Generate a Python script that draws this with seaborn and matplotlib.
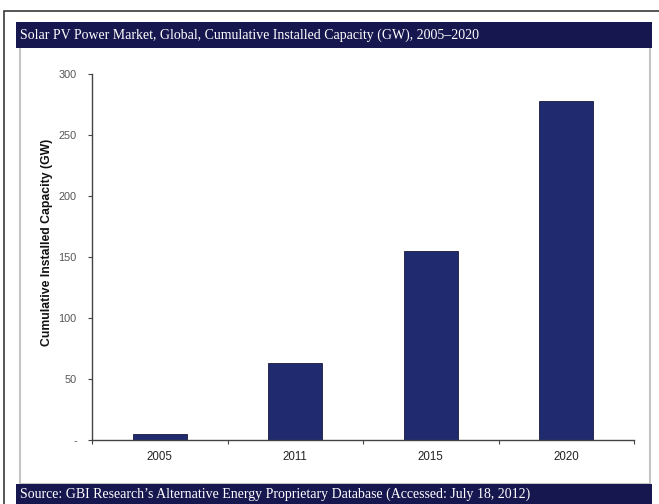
import matplotlib
matplotlib.use("Agg")
import matplotlib.pyplot as plt
from matplotlib.patches import Rectangle
from matplotlib.ticker import FuncFormatter, FixedLocator
import seaborn as sns
import pandas as pd

years = ["2005", "2011", "2015", "2020"]
capacity = [5, 63, 155, 278]
y_ticks = [0, 50, 100, 150, 200, 250, 300]
title_text = "Solar PV Power Market, Global, Cumulative Installed Capacity (GW), 2005\u20132020"
source_text = "Source: GBI Research\u2019s Alternative Energy Proprietary Database (Accessed: July 18, 2012)"
ylabel_text = "Cumulative Installed Capacity (GW)"

sns.set_style("white")
plt.rcParams['font.family'] = ['Liberation Sans', 'DejaVu Sans']

W, H = 659, 504
fig = plt.figure(figsize=(W / 100, H / 100), dpi=100)
fig.patch.set_facecolor("white")

def fx(x):
    return x / W

def fy(y):
    return 1 - y / H

# outer frame
fig.patches.append(Rectangle((fx(4), fy(520)), fx(700) - fx(4), fy(11) - fy(520),
                             transform=fig.transFigure, fill=False,
                             edgecolor="#3a3a3a", linewidth=1.2, zorder=0))
# inner light box
fig.patches.append(Rectangle((fx(20), fy(484)), fx(650) - fx(20), fy(47) - fy(484),
                             transform=fig.transFigure, fill=False,
                             edgecolor="#c4c4c4", linewidth=1.5, zorder=0))
# title bar
navy = "#17174f"
fig.patches.append(Rectangle((fx(16), fy(48)), fx(652) - fx(16), fy(22) - fy(48),
                             transform=fig.transFigure, facecolor=navy,
                             edgecolor="none", zorder=1))
fig.text(fx(20), fy(35.5), title_text, color="white", fontsize=10,
         family=['Liberation Serif', 'DejaVu Serif'], va="center", ha="left")
# source bar
fig.patches.append(Rectangle((fx(16), fy(510)), fx(652) - fx(16), fy(484) - fy(510),
                             transform=fig.transFigure, facecolor=navy,
                             edgecolor="none", zorder=1))
fig.text(fx(20), fy(494), source_text, color="white", fontsize=10,
         family=['Liberation Serif', 'DejaVu Serif'], va="center", ha="left")

ax = fig.add_axes([fx(92), fy(440), fx(634) - fx(92), fy(74) - fy(440)])
df = pd.DataFrame({"year": years, "capacity": capacity})
sns.barplot(data=df, x="year", y="capacity", color="#1f2b6e", width=0.4,
            edgecolor="#1a1a3a", linewidth=0.6, saturation=1, ax=ax)
ax.set_xlim(-0.5, len(years) - 0.5)
ax.set_ylim(0, 300)
ax.set_facecolor("none")

for s in ["top", "right"]:
    ax.spines[s].set_visible(False)
for s in ["left", "bottom"]:
    ax.spines[s].set_color("#444444")
    ax.spines[s].set_linewidth(1.0)

ax.set_yticks(y_ticks)
ax.yaxis.set_major_formatter(FuncFormatter(lambda v, p: "-" if v == 0 else f"{int(v)}"))
ax.tick_params(axis="y", which="major", left=True, length=3, width=0.8, color="#444444",
               labelsize=7.8, labelcolor="#555555", pad=8, direction="out")
ax.tick_params(axis="x", which="major", bottom=True, length=0, labelsize=8.3,
               labelcolor="#222222", pad=8)
ax.xaxis.set_minor_locator(FixedLocator([i - 0.5 for i in range(len(years) + 1)]))
ax.tick_params(axis="x", which="minor", bottom=True, length=3, width=0.8,
               color="#444444", direction="out")

ax.set_xlabel("")
ax.set_ylabel(ylabel_text, fontsize=8.8, fontweight="bold", color="#111111")
ax.yaxis.set_label_coords((53 - 92) / (634 - 92), 0.54)

fig.savefig("out.png", dpi=100)
